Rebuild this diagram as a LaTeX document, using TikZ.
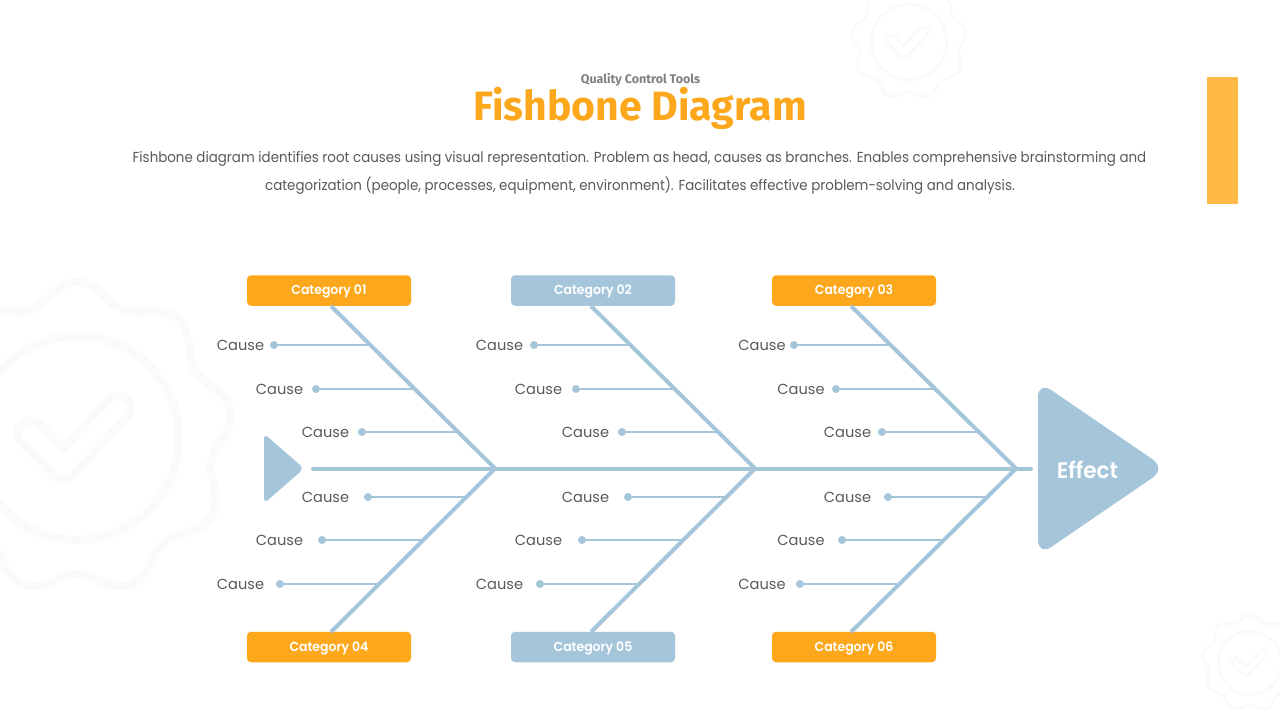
\documentclass[tikz,border=0pt]{standalone}
\usepackage{fontspec}
\setmainfont{Poppins}
\newfontfamily\titlefont{Fira Sans}
\newfontfamily\bodyfont[FakeStretch=0.925]{Poppins}
\newfontfamily\catfont[FakeStretch=0.96]{Poppins SemiBold}
\usetikzlibrary{calc}
\definecolor{orangeA}{HTML}{FDA81C}
\definecolor{orangeB}{HTML}{FFB946}
\definecolor{blueA}{HTML}{A5C6DA}
\definecolor{inkA}{HTML}{5A5A5A}
\definecolor{inkB}{HTML}{808080}
\definecolor{ghost}{HTML}{FAFAFA}
\tikzset{
  bone/.style={draw=blueA,line width=4pt,line cap=round},
  twig/.style={draw=blueA,line width=2pt},
  dotnode/.style={circle,fill=blueA,minimum size=8pt,inner sep=0pt},
  causetext/.style={text=inkA,font=\fontsize{14.6}{18}\selectfont,inner sep=0pt},
  catbox/.style={rounded corners=4pt,minimum width=164pt,minimum height=30.5pt,inner sep=0pt,text=white,font=\catfont\fontsize{13}{15}\selectfont},
  bodytext/.style={text=inkA,font=\bodyfont\fontsize{14.5}{27}\selectfont,inner sep=0pt,align=center},
}
\newcommand{\badge}[4]{% x, y, scale, line width
  \begin{scope}[shift={(#1,#2)},scale=#3]
    \draw[ghost,line width=#4pt,smooth] plot[domain=0:360,samples=109,variable=\t] ({(146+10*cos(9*(\t+90)))*cos(\t)},{(146+10*cos(9*(\t+90)))*sin(\t)}) -- cycle;
    \draw[ghost,line width=#4pt] (0,0) circle (102);
    \draw[ghost,line width=33*#3pt,line cap=round,line join=round] (-47,-5) -- (-14,29) -- (41,-30);
    \draw[white,line width={(33*#3-2*#4)*1pt},line cap=round,line join=round] (-47,-5) -- (-14,29) -- (41,-30);
  \end{scope}}
\begin{document}
\begin{tikzpicture}[x=1pt,y=-1pt]
\useasboundingbox (0,0) rectangle (1280,720);
\fill[white] (0,0) rectangle (1280,720);
\badge{77}{438}{1}{8}
\badge{909}{42}{0.37}{3}
\badge{1250}{663}{0.31}{3}
\fill[orangeB] (1207,77) rectangle (1238,204);
\node[text=inkB,inner sep=0pt,font=\titlefont\fontsize{12.5}{15}\selectfont\bfseries] (kicker) at (640.5,80) {Quality Control Tools};
\node[text=orangeA,inner sep=0pt,font=\titlefont\fontsize{41}{48}\selectfont\bfseries] (title) at (640,108) {Fishbone Diagram};
\node[bodytext] (body1) at (639.5,159) {Fishbone diagram identifies root causes using visual representation. Problem as head, causes as branches. Enables comprehensive brainstorming and};
\node[bodytext] (body2) at (640,186) {categorization (people, processes, equipment, environment). Facilitates effective problem-solving and analysis.};
% head and tail
\fill[blueA,rounded corners=16pt] (1038,381) -- (1166,468.5) -- (1038,556) -- cycle;
\fill[blueA,rounded corners=5pt] (264,433.5) -- (304,468.5) -- (264,503.5) -- cycle;
\node[text=white,inner sep=0pt,font=\catfont\fontsize{22.5}{26}\selectfont] (effect) at (1087.5,469.5) {Effect};
% spine
\coordinate (tail) at (313,468.5);
\coordinate (headend) at (1031,468.5);
\coordinate (v1) at (495,468.5);
\coordinate (v2) at (755,468.5);
\coordinate (v3) at (1016,468.5);
\draw[bone] (tail) -- (headend);
% categories
\foreach \nm/\x/\y/\col/\lab in {
  c1/329/290.5/orangeA/Category 01,c2/593/290.5/blueA/Category 02,c3/854/290.5/orangeA/Category 03,
  c4/329/647/orangeA/Category 04,c5/593/647/blueA/Category 05,c6/854/647/orangeA/Category 06}{
  \node[catbox,fill=\col] (\nm) at (\x,\y) {\raisebox{-4pt}[0pt][0pt]{\lab}};
}
% main bones
\foreach \nm/\x/\v in {c1/331/v1,c2/591/v2,c3/851/v3}{
  \coordinate (\nm-s) at (\x,306);
  \draw[bone,line cap=butt] (\nm-s) -- (\v);
}
\foreach \nm/\x/\v in {c4/331/v1,c5/591/v2,c6/851/v3}{
  \coordinate (\nm-s) at (\x,632);
  \draw[bone,line cap=butt] (\nm-s) -- (\v);
}
% causes
\foreach \i/\tx/\dx/\ex/\y in {
  1/240.5/274/370/345, 2/279.5/316/413/389, 3/325.5/362/457/432,
  4/325.5/368/467/497, 5/279.5/322/424/540, 6/240.5/280/379/584,
  7/499.5/534/630/345, 8/538.5/576/673/389, 9/585.5/622/717/432,
  10/585.5/628/727/497, 11/538.5/582/684/540, 12/499.5/540/640/584,
  13/762/794/890/345, 14/801/836/933/389, 15/847.5/882/977/432,
  16/847.5/888/988/497, 17/801/842/944/540, 18/762/800/899/584}{
  \node[causetext] (t\i) at (\tx,\y) {Cause};
  \node[dotnode] (d\i) at (\dx,\y) {};
  \coordinate (e\i) at (\ex,\y);
  \draw[twig] (d\i) -- (e\i);
}
\end{tikzpicture}
\end{document}
